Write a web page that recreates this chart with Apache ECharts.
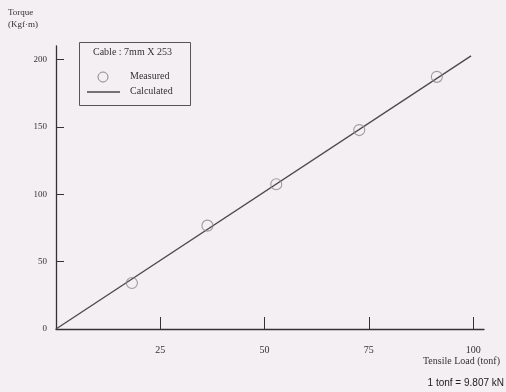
<!DOCTYPE html>
<html>
<head>
<meta charset="utf-8">
<script src="https://cdn.jsdelivr.net/npm/echarts@6/dist/echarts.min.js"></script>
<style>html,body{margin:0;padding:0;background:#f3eff3;}#c{width:506px;height:392px;}</style>
</head>
<body>
<div id="c"></div>
<script>
// Data
var measuredLoad = [18.2, 36.3, 52.8, 72.7, 91.3];
var measuredTorque = [34.1, 76.7, 107.4, 147.6, 187.1];
var calcLoad = [0, 99.5];
var calcTorque = [0, 202.7];
var xTicks = [25, 50, 75, 100];
var yTicks = [0, 50, 100, 150, 200];

var serif = '"Liberation Serif", "DejaVu Serif", serif';
var ink = '#333333';

var chart = echarts.init(document.getElementById('c'), null, {renderer: 'canvas'});
chart.setOption({
  backgroundColor: '#f3eff3',
  animation: false,
  grid: {left: 56, right: 22, top: 46, bottom: 63},
  xAxis: {
    type: 'value', min: 0, max: 102.6,
    axisLine: {show: true, onZero: false, lineStyle: {color: ink, width: 1.3}},
    axisTick: {show: true, inside: true, length: 12, customValues: xTicks, lineStyle: {color: ink, width: 1}},
    axisLabel: {customValues: xTicks, margin: 16, color: ink, fontFamily: serif, fontSize: 10},
    splitLine: {show: false}
  },
  yAxis: {
    type: 'value', min: 0, max: 210,
    axisLine: {show: true, onZero: false, lineStyle: {color: ink, width: 1.3}},
    axisTick: {show: true, inside: true, length: 8, customValues: yTicks.slice(1), lineStyle: {color: ink, width: 1}},
    axisLabel: {customValues: yTicks, margin: 9, color: ink, fontFamily: serif, fontSize: 9},
    splitLine: {show: false}
  },
  graphic: [
    {type: 'rect', shape: {x: 79.5, y: 42.5, width: 111, height: 63}, style: {fill: 'none', stroke: '#555', lineWidth: 1}, z: 10},
    {type: 'text', left: 93, top: 47, style: {text: 'Cable : 7mm X 253', fill: ink, font: '10px ' + serif}, z: 10},
    {type: 'circle', shape: {cx: 103, cy: 77, r: 5}, style: {fill: 'none', stroke: '#888', lineWidth: 1}, z: 10},
    {type: 'text', left: 130, top: 71, style: {text: 'Measured', fill: ink, font: '10px ' + serif}, z: 10},
    {type: 'line', shape: {x1: 87, y1: 92, x2: 120, y2: 92}, style: {stroke: '#4a4a4a', lineWidth: 1.3}, z: 10},
    {type: 'text', left: 130, top: 86, style: {text: 'Calculated', fill: ink, font: '10px ' + serif}, z: 10},
    {type: 'text', left: 8, top: 7, style: {text: 'Torque\n(Kgf·m)', fill: ink, font: '9px ' + serif, lineHeight: 12}},
    {type: 'text', right: 6, top: 356, style: {text: 'Tensile Load (tonf)', fill: ink, font: '10px ' + serif}},
    {type: 'text', right: 2, top: 378, style: {text: '1 tonf = 9.807 kN', fill: '#222', font: '10px "Liberation Sans", Arial, sans-serif'}}
  ],
  series: [
    {
      name: 'Calculated', type: 'line', showSymbol: false, symbol: 'none',
      data: calcLoad.map(function (v, i) { return [v, calcTorque[i]]; }),
      lineStyle: {color: '#4a4a4a', width: 1.3},
      itemStyle: {color: '#4a4a4a'}
    },
    {
      name: 'Measured', type: 'scatter', symbol: 'circle', symbolSize: 11,
      data: measuredLoad.map(function (v, i) { return [v, measuredTorque[i]]; }),
      itemStyle: {color: 'transparent', borderColor: '#888', borderWidth: 1.1},
      z: 3
    }
  ]
});
</script>
</body>
</html>
